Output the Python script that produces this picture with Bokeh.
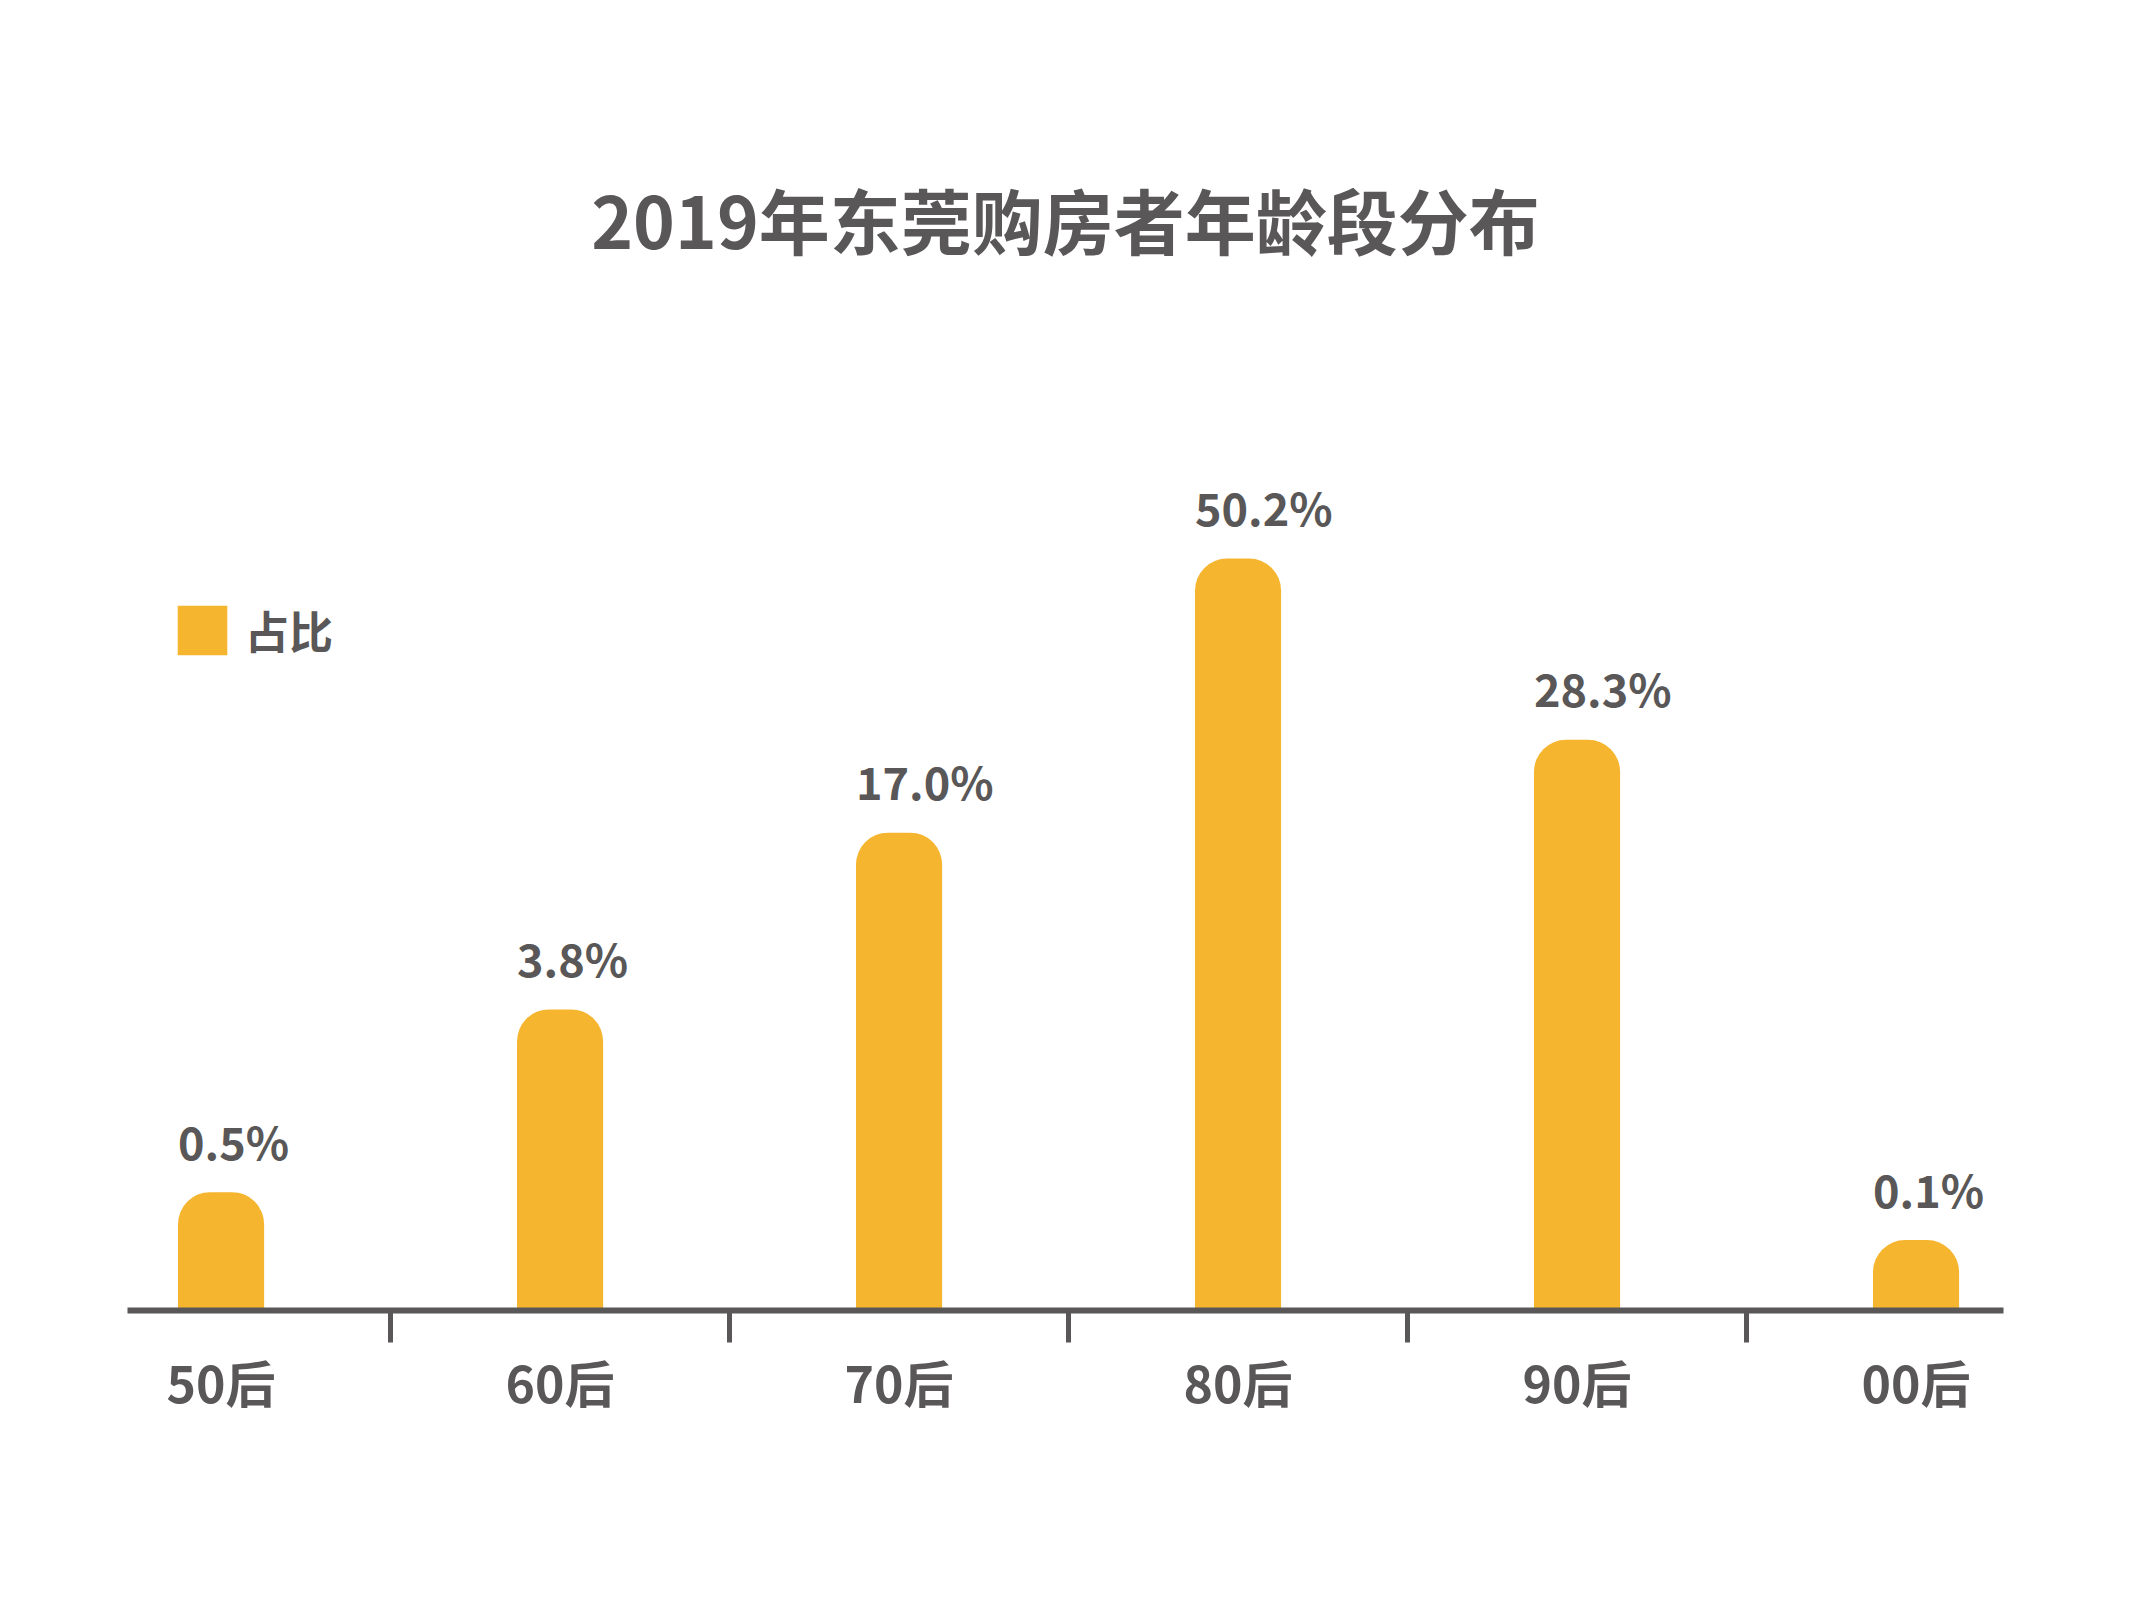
from bokeh.plotting import figure
from bokeh.models import (ColumnDataSource, Range1d, FixedTicker, Title, Legend,
                          LegendItem, LinearAxis)
from bokeh.core.properties import value
from bokeh.embed import file_html
from bokeh.resources import INLINE

# ---- data ----
title_text = "2019年东莞购房者年龄段分布"
categories = ["50后", "60后", "70后", "80后", "90后", "00后"]
share_labels = ["0.5%", "3.8%", "17.0%", "50.2%", "28.3%", "0.1%"]   # printed values
# drawn bar heights (illustrative scale, tallest bar = 50.2)
bar_level = [7.9, 20.1, 31.9, 50.2, 38.1, 4.7]
series_name = "占比"

FONT = "Noto Sans CJK SC"
TEXT = "#595757"
BAR = "#F6B52E"
BAR_W = 0.254

xs = list(range(len(categories)))
src = ColumnDataSource(dict(
    x=xs,
    top=bar_level,
    label=share_labels,
    lx=[x - BAR_W / 2 for x in xs],
))

p = figure(width=2117, height=1584, output_backend="svg", toolbar_location=None,
           x_range=Range1d(-0.276, 5.258), y_range=Range1d(0, 69.16),
           x_axis_location=None, y_axis_location=None,
           min_border_left=127, min_border_right=114,
           min_border_top=274, min_border_bottom=274)
p.outline_line_color = None
p.xgrid.visible = False
p.ygrid.visible = False
p.background_fill_color = "white"
p.border_fill_color = "white"

p.title = Title(text=title_text, align="center", text_font=FONT,
                text_font_size="71px", text_font_style="bold", text_color=TEXT,
                standoff=12)

bars = p.vbar(x="x", top="top", bottom=0, width=BAR_W, source=src,
              fill_color=BAR, line_color=None, border_radius=(32, 32, 0, 0))

p.text(x="lx", y="top", text="label", source=src, text_align="left",
       text_baseline="middle", y_offset=-52, text_font=value(FONT),
       text_font_size="45px", text_font_style="bold", text_color=TEXT)

ax = LinearAxis(ticker=FixedTicker(ticks=xs, minor_ticks=[x + 0.5 for x in xs[:-1]]),
                major_label_overrides={i: c for i, c in enumerate(categories)})
ax.axis_line_color = TEXT
ax.axis_line_width = 6
ax.major_tick_line_color = None
ax.major_tick_out = 0
ax.major_tick_in = 0
ax.minor_tick_line_color = TEXT
ax.minor_tick_line_width = 5
ax.minor_tick_out = 32
ax.minor_tick_in = 0
ax.major_label_standoff = 2
ax.major_label_text_font = FONT
ax.major_label_text_font_size = "50px"
ax.major_label_text_font_style = "bold"
ax.major_label_text_color = TEXT
p.add_layout(ax, "below")

legend = Legend(items=[LegendItem(label=series_name, renderers=[bars])],
                location=(44, 648), orientation="vertical")
legend.glyph_width = 62
legend.glyph_height = 62
legend.label_height = 62
legend.label_standoff = 12
legend.label_text_font = FONT
legend.label_text_font_size = "44px"
legend.label_text_font_style = "bold"
legend.label_text_color = TEXT
legend.padding = 0
legend.margin = 0
legend.border_line_color = None
legend.background_fill_alpha = 0
p.add_layout(legend)

open("out.html", "w").write(file_html(p, INLINE))
